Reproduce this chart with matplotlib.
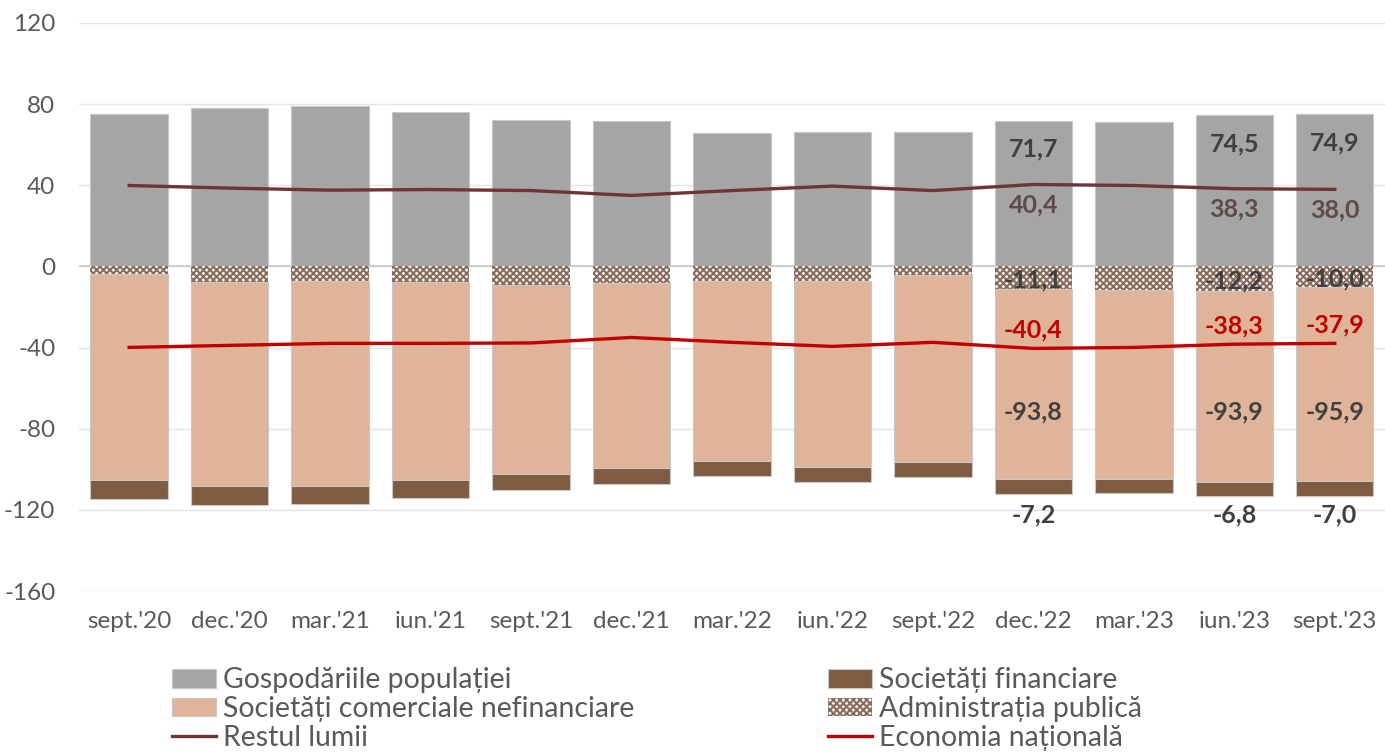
import matplotlib
matplotlib.use("Agg")
import matplotlib.pyplot as plt
import numpy as np

plt.rcParams['font.family'] = ['Lato', 'DejaVu Sans']
plt.rcParams['axes.unicode_minus'] = False
plt.rcParams['hatch.linewidth'] = 1.4

categories = ["sept.'20", "dec.'20", "mar.'21", "iun.'21", "sept.'21", "dec.'21",
              "mar.'22", "iun.'22", "sept.'22", "dec.'22", "mar.'23", "iun.'23", "sept.'23"]
gospodarii = [74.9, 78.3, 79.3, 75.9, 72.4, 71.9, 66.0, 66.5, 66.5, 71.7, 71.4, 74.5, 74.9]
admin_publica = [-3.9, -7.9, -7.4, -7.9, -8.9, -8.4, -7.4, -7.4, -4.4, -11.1, -11.8, -12.2, -10.0]
nefinanciare = [-101.5, -100.5, -101.0, -97.5, -93.6, -91.1, -88.7, -91.6, -92.2, -93.8, -93.1, -93.9, -95.9]
financiare = [-9.4, -9.3, -8.8, -8.9, -7.8, -7.9, -7.3, -7.4, -7.3, -7.2, -6.9, -6.8, -7.0]
restul_lumii = [39.9, 38.6, 37.6, 37.9, 37.4, 35.0, 37.4, 39.6, 37.4, 40.4, 39.9, 38.3, 38.0]
economia = [-39.9, -38.9, -37.9, -37.9, -37.7, -35.0, -37.4, -39.4, -37.4, -40.4, -39.9, -38.3, -37.9]
labeled = [9, 11, 12]

def fmt(v):
    return f"{v:.1f}".replace('.', ',')

fig = plt.figure(figsize=(13.85, 7.53), dpi=100)
ax = fig.add_axes([0.057, 0.215, 0.943, 0.7545])

x = np.arange(len(categories))
w = 0.77
c_gray = '#a5a5a5'
c_peach = '#e0b498'
c_brown = '#7f5b42'
c_rest = '#6e3535'
c_econ = '#c00000'
edge = '#c8c8c8'

adm = np.array(admin_publica)
nef = np.array(nefinanciare)
fin = np.array(financiare)

ax.bar(x, gospodarii, w, color=c_gray, edgecolor=edge, linewidth=0.8, zorder=2,
       label='Gospodăriile populației')
ax.bar(x, adm, w, color='#f4f0ec', edgecolor='#86695a', hatch='xxxxx', linewidth=0, zorder=2,
       label='Administrația publică')
ax.bar(x, nef, w, bottom=adm, color=c_peach, edgecolor=edge, linewidth=0.8, zorder=2,
       label='Societăți comerciale nefinanciare')
ax.bar(x, fin, w, bottom=adm + nef, color=c_brown, edgecolor=edge, linewidth=0.8, zorder=2,
       label='Societăți financiare')
ax.plot(x, restul_lumii, color=c_rest, lw=2.4, zorder=3, label='Restul lumii')
ax.plot(x, economia, color=c_econ, lw=2.4, zorder=3, label='Economia națională')

lab_fs = 18
for i in labeled:
    ax.text(x[i], gospodarii[i] - 14, fmt(gospodarii[i]), ha='center', va='center',
            fontsize=lab_fs, color='#404040', fontweight='bold', zorder=4)
    ax.text(x[i], restul_lumii[i] - 10, fmt(restul_lumii[i]), ha='center', va='center',
            fontsize=lab_fs, color='#5f4a4a', fontweight='bold', zorder=4)
    ax.text(x[i], adm[i] / 2 - 1, fmt(adm[i]), ha='center', va='center',
            fontsize=lab_fs, color='#404040', fontweight='bold', zorder=4)
    ax.text(x[i], economia[i] + 9, fmt(economia[i]), ha='center', va='center',
            fontsize=lab_fs, color=c_econ, fontweight='bold', zorder=4)
    ax.text(x[i], -71.5, fmt(nef[i]), ha='center', va='center',
            fontsize=lab_fs, color='#404040', fontweight='bold', zorder=4)
    ax.text(x[i], -122.5, fmt(fin[i]), ha='center', va='center',
            fontsize=lab_fs, color='#404040', fontweight='bold', zorder=4)

ax.set_xlim(-0.5, 12.5)
ax.set_ylim(-160, 120)
ax.set_yticks(np.arange(-160, 121, 40))
ax.set_xticks(x)
ax.set_xticklabels(categories)
ax.tick_params(axis='both', length=0, labelsize=17.5, colors='#595959')
ax.tick_params(axis='y', pad=17)
ax.tick_params(axis='x', pad=14)
for s in ax.spines.values():
    s.set_visible(False)
ax.grid(axis='y', color='#e3e3e3', lw=1.0, zorder=0)
ax.axhline(0, color='#c8c8c8', lw=1.2, zorder=1)
ax.set_axisbelow(True)

h, l = ax.get_legend_handles_labels()
order = ['Gospodăriile populației', 'Societăți comerciale nefinanciare', 'Restul lumii',
         'Societăți financiare', 'Administrația publică', 'Economia națională']
hd = dict(zip(l, h))
leg = fig.legend([hd[k] for k in order], order, ncol=2, loc='upper left',
                 bbox_to_anchor=(0.124, 0.114), frameon=False, fontsize=20.4,
                 labelcolor='#595959', handlelength=1.55, handleheight=0.65,
                 handletextpad=0.25, columnspacing=6.85, labelspacing=0.1,
                 borderpad=0, borderaxespad=0)

fig.savefig('out.png', dpi=100)
